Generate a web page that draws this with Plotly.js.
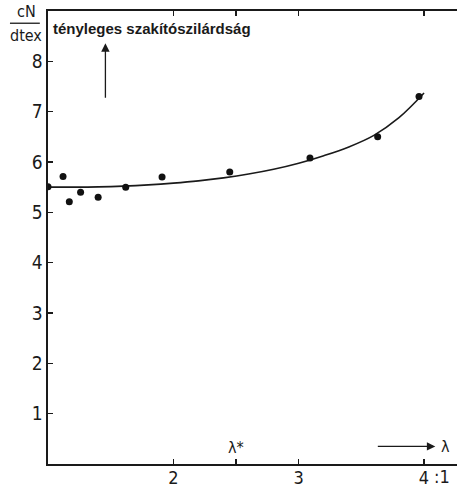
<!DOCTYPE html>
<html>
<head>
<meta charset="utf-8">
<script src="https://cdn.plot.ly/plotly-3.0.1.min.js"></script>
<style>
  html, body { margin: 0; padding: 0; background: #fff; }
  #chart { width: 457px; height: 490px; }
</style>
</head>
<body>
<div id="chart"></div>
<script>
// Measured tenacity against draw ratio
const drawRatio = [1.0, 1.12, 1.17, 1.26, 1.40, 1.62, 1.91, 2.45, 3.09, 3.63, 3.96];
const tenacity  = [5.51, 5.71, 5.21, 5.40, 5.30, 5.50, 5.70, 5.80, 6.08, 6.50, 7.30];

// Fitted trend curve
const curveX = [1.0, 1.2, 1.4, 1.6, 1.8, 2.0, 2.2, 2.4, 2.6, 2.8, 3.0, 3.2, 3.4, 3.6, 3.8, 4.0];
const curveY = [5.50, 5.50, 5.505, 5.52, 5.545, 5.58, 5.625, 5.685, 5.76, 5.855, 5.975, 6.125, 6.30, 6.53, 6.88, 7.37];

// Axis ticks
const xTickVals = [2, 2.5, 3, 4];
const xTickText = ['2', '', '3', '4'];
const yTickVals = [1, 2, 3, 4, 5, 6, 7, 8];
const yTickText = ['1', '2', '3', '4', '5', '6', '7', '8'];

const narrow = '"Liberation Sans Narrow", "DejaVu Sans Condensed", "Liberation Sans", sans-serif';
const ink = '#1a1a1a';

const traces = [
  {
    x: curveX, y: curveY, type: 'scatter', mode: 'lines',
    line: { color: ink, width: 1.6, shape: 'spline', smoothing: 1.0 },
    hoverinfo: 'skip'
  },
  {
    x: drawRatio, y: tenacity, type: 'scatter', mode: 'markers',
    marker: { color: '#111', size: 7 }
  }
];

const layout = {
  width: 457, height: 490,
  margin: { l: 48, r: 0, t: 11, b: 26 },
  paper_bgcolor: '#fff', plot_bgcolor: '#fff',
  showlegend: false,
  font: { family: narrow, color: ink, size: 19 },
  xaxis: {
    range: [1, 4.263],
    showgrid: false, zeroline: false,
    showline: true, linecolor: ink, linewidth: 1.6,
    mirror: 'ticks',
    ticks: 'inside', ticklen: 5, tickwidth: 1.3, tickcolor: ink,
    tickvals: xTickVals, ticktext: xTickText,
    ticklabelstandoff: -3,
    tickfont: { family: narrow, size: 18, color: ink }
  },
  yaxis: {
    range: [0, 9],
    showgrid: false, zeroline: false,
    showline: true, linecolor: ink, linewidth: 1.6,
    ticks: 'inside', ticklen: 5, tickwidth: 1.3, tickcolor: ink,
    tickvals: yTickVals, ticktext: yTickText,
    tickfont: { family: narrow, size: 19, color: ink }
  },
  shapes: [
    // fraction bar of the unit label
    { type: 'line', xref: 'paper', yref: 'paper',
      x0: -0.093, x1: -0.02, y0: 0.973, y1: 0.973,
      line: { color: ink, width: 1.3 } }
  ],
  annotations: [
    { xref: 'paper', yref: 'paper', x: -0.052, y: 0.974, xanchor: 'center', yanchor: 'bottom',
      text: 'cN', showarrow: false, font: { family: narrow, size: 16, color: ink } },
    { xref: 'paper', yref: 'paper', x: -0.054, y: 0.972, xanchor: 'center', yanchor: 'top',
      text: 'dtex', showarrow: false, font: { family: narrow, size: 16, color: ink } },
    { xref: 'paper', yref: 'paper', x: 0.008, y: 0.962, xanchor: 'left', yanchor: 'middle',
      text: 'tényleges szakítószilárdság', showarrow: false,
      font: { family: '"Liberation Sans", Arial, sans-serif', size: 15, color: ink, weight: 'bold' } },
    // upward arrow under the heading
    { x: 1.458, y: 8.36, xref: 'x', yref: 'y', text: '', showarrow: true,
      ax: 0, ay: 56, arrowhead: 2, arrowsize: 1.3, arrowwidth: 1.3, arrowcolor: ink },
    // λ* marker on the axis
    { x: 2.5, y: 0.33, xref: 'x', yref: 'y', text: 'λ*', showarrow: false,
      font: { family: narrow, size: 16, color: ink } },
    // arrow towards λ
    { x: 4.09, y: 0.35, xref: 'x', yref: 'y', text: '', showarrow: true,
      ax: -59, ay: 0, arrowhead: 2, arrowsize: 1.3, arrowwidth: 1.3, arrowcolor: ink },
    { x: 4.17, y: 0.35, xref: 'x', yref: 'y', text: 'λ', showarrow: false,
      font: { family: narrow, size: 16, color: ink } },
    { x: 4.145, y: -0.028, xref: 'x', yref: 'paper', yanchor: 'middle', text: ':1', showarrow: false,
      font: { family: narrow, size: 18, color: ink } }
  ]
};

Plotly.newPlot('chart', traces, layout, { staticPlot: true, displayModeBar: false });
</script>
</body>
</html>
